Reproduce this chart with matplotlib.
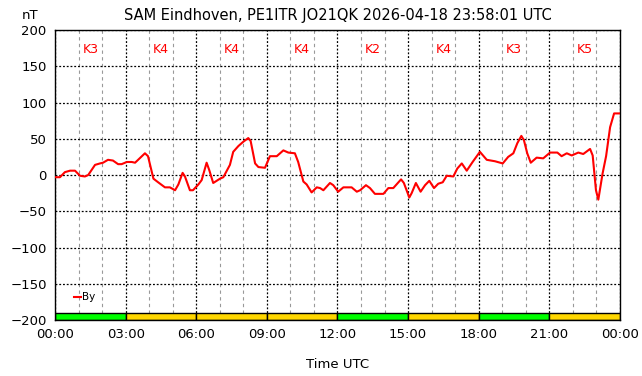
"""SAM magnetometer By plot with K-index strip"""
import matplotlib
matplotlib.use("Agg")
import matplotlib.pyplot as plt
from matplotlib.ticker import MultipleLocator, FuncFormatter

# time in hours UTC, By in nT
hours = [0.00, 0.21, 0.42, 0.64, 0.85, 1.06, 1.27, 1.41, 1.70, 1.91, 2.04, 2.25,
         2.46, 2.68, 2.83, 3.05, 3.26, 3.40, 3.53, 3.82, 3.95, 4.18, 4.38, 4.67,
         4.88, 5.10, 5.24, 5.42, 5.52, 5.73, 5.86, 6.09, 6.23, 6.44, 6.55, 6.72,
         7.01, 7.15, 7.43, 7.57, 7.79, 8.00, 8.21, 8.31, 8.50, 8.64, 8.92, 9.13,
         9.42, 9.70, 9.91, 10.19, 10.33, 10.55, 10.69, 10.90, 11.12, 11.26, 11.40,
         11.68, 11.82, 12.03, 12.25, 12.60, 12.82, 12.96, 13.21, 13.38, 13.59,
         13.95, 14.16, 14.37, 14.70, 14.82, 15.05, 15.15, 15.33, 15.53, 15.72,
         15.90, 16.10, 16.28, 16.47, 16.64, 16.92, 17.09, 17.28, 17.49, 17.74,
         18.05, 18.34, 18.69, 19.02, 19.25, 19.47, 19.64, 19.81, 19.92, 20.06,
         20.21, 20.46, 20.74, 21.03, 21.34, 21.52, 21.74, 21.95, 22.23, 22.44,
         22.73, 22.84, 22.98, 23.08, 23.26, 23.41, 23.58, 23.75, 24.00]
by_nt = [-3, -3, 4, 6, 6, -1, -2, 0, 14, 16, 17, 21,
         20, 15, 15, 18, 18, 17, 21, 30, 26, -5, -10, -17,
         -17, -21, -13, 3, -2, -21, -21, -13, -7, 17, 7, -11,
         -5, -3, 14, 32, 40, 46, 51, 47, 16, 11, 10, 26,
         26, 34, 31, 30, 18, -9, -13, -24, -17, -18, -21,
         -11, -14, -23, -17, -17, -23, -21, -14, -18, -26,
         -26, -18, -18, -6, -11, -31, -25, -11, -23, -14,
         -8, -18, -12, -10, -1, -2, 9, 16, 6, 18,
         32, 21, 19, 16, 25, 30, 44, 54, 48, 30,
         17, 24, 23, 31, 31, 26, 30, 27, 31, 29,
         36, 27, -21, -34, 2, 26, 66, 85, 85]

k_index = [3, 4, 4, 4, 2, 4, 3, 5]
k_start = [0, 3, 6, 9, 12, 15, 18, 21]

title = "SAM Eindhoven, PE1ITR JO21QK 2026-04-18 23:58:01 UTC"

fig = plt.figure(figsize=(6.42, 3.76), dpi=100)
axis = fig.add_axes([0.0857, 0.149, 0.88, 0.771])

# K-index strip at the bottom
for start, k in zip(k_start, k_index):
    color = "#00ff00" if k < 4 else "#ffd700"
    axis.bar(start, 10, width=3, bottom=-200, align="edge",
             color=color, edgecolor="black", linewidth=1, zorder=2)
    axis.text(start + 1.5, 173, "K%d" % k, color="red", fontsize=9,
              ha="center", va="center")

axis.plot(hours, by_nt, color="red", linewidth=1.5, label="By", zorder=3)

axis.set_xlim(0, 24)
axis.set_ylim(-200, 200)
axis.xaxis.set_major_locator(MultipleLocator(3))
axis.xaxis.set_minor_locator(MultipleLocator(1))
axis.yaxis.set_major_locator(MultipleLocator(50))
axis.xaxis.set_major_formatter(FuncFormatter(lambda v, p: "%02d:00" % (int(v) % 24)))

axis.grid(which="major", color="black", linestyle=(0, (1.5, 1.5)), linewidth=0.9)
axis.grid(which="minor", axis="x", color="#999999", linestyle=(0, (3, 3)), linewidth=0.8)
axis.set_axisbelow(True)
axis.tick_params(which="both", length=0, labelsize=9.5, pad=6)
for spine in axis.spines.values():
    spine.set_linewidth(1.0)

axis.set_xlabel("Time UTC", fontsize=9.5, labelpad=12)
axis.set_title(title, fontsize=10.5, pad=7)
fig.text(0.047, 0.96, "nT", fontsize=9.5, ha="center", va="center")

axis.legend(loc="upper left", bbox_to_anchor=(0.02, 0.12), frameon=False,
            fontsize=7.5, handlelength=0.7, handletextpad=0.1, borderpad=0.2)

fig.savefig("out.png", dpi=100)
